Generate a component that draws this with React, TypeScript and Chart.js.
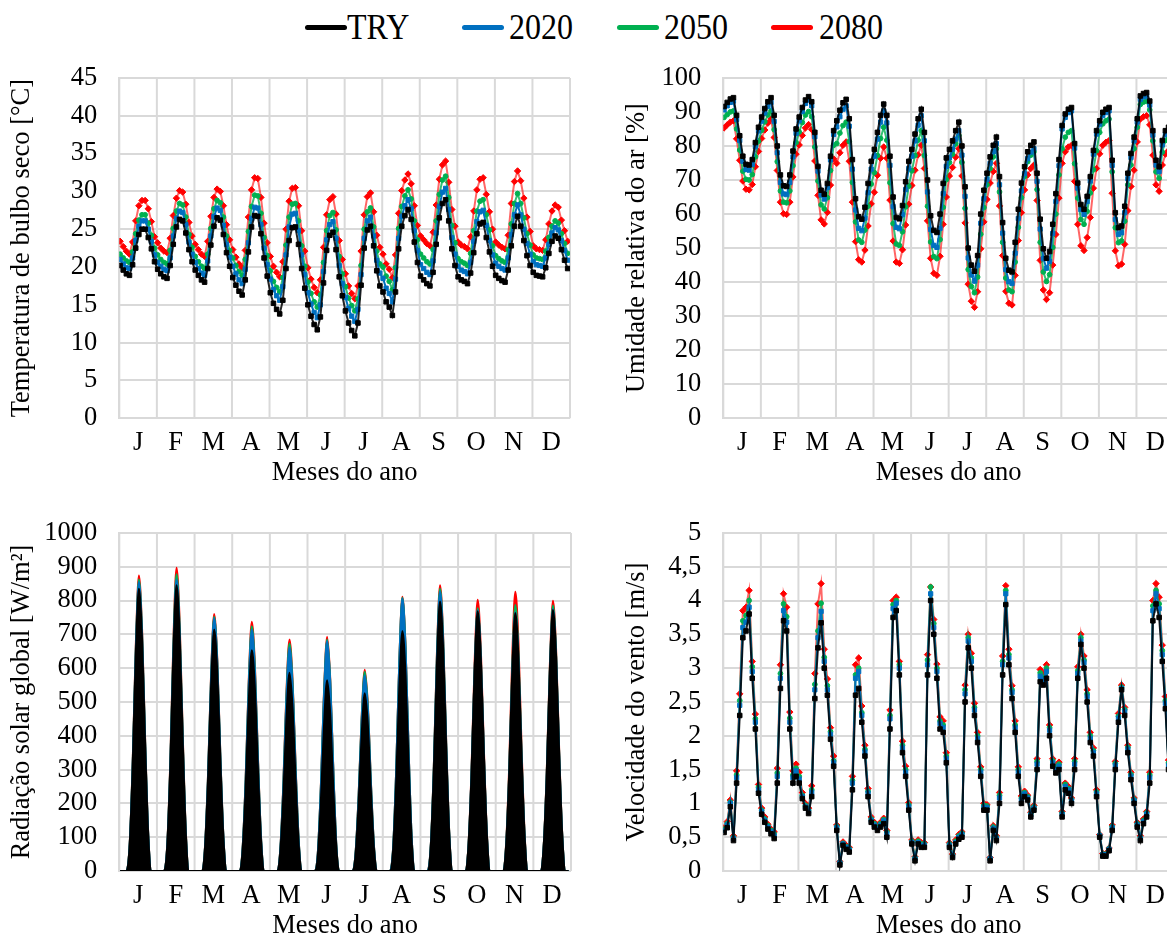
import React, { useEffect, useRef } from 'react';
import { Chart, registerables } from 'chart.js';

Chart.register(...registerables);

// ---------- categories ----------
const MONTH_LABELS = ['J', 'F', 'M', 'A', 'M', 'J', 'J', 'A', 'S', 'O', 'N', 'D'];
const HOURS = [0, 2, 4, 6, 8, 10, 12, 14, 16, 18, 20, 22];
const SERIES_NAMES = ['TRY', '2020', '2050', '2080'];
const SERIES_COLORS = ['#000000', '#0070C0', '#00B050', '#FF0000'];

// ---------- Temperatura de bulbo seco [°C] (12 values per month) ----------
const TEMP_TRY = [
  20.2, 19.6, 19.1, 18.9, 20.3, 22.5, 24.3, 25.0, 25.0, 23.9, 22.4, 20.7,
  19.7, 19.1, 18.7, 18.5, 20.2, 23.0, 25.3, 26.3, 26.1, 24.5, 22.3, 20.7,
  19.6, 18.9, 18.3, 18.0, 19.8, 22.9, 25.4, 26.5, 26.2, 24.3, 21.9, 20.1,
  18.6, 17.6, 16.8, 16.3, 18.3, 22.0, 25.3, 26.8, 26.7, 24.4, 21.2, 18.8,
  16.6, 15.2, 14.4, 13.8, 15.6, 19.8, 23.5, 25.2, 25.3, 23.0, 19.8, 17.2,
  15.0, 13.5, 12.4, 11.7, 13.4, 17.9, 22.2, 24.2, 24.6, 22.3, 18.7, 16.2,
  14.2, 12.6, 11.6, 10.9, 12.6, 17.6, 22.5, 24.9, 25.4, 22.8, 19.5, 17.5,
  16.7, 15.4, 14.7, 13.6, 16.7, 22.4, 25.4, 26.8, 27.6, 26.3, 23.3, 20.6,
  18.8, 18.3, 17.8, 17.5, 19.3, 23.0, 26.5, 28.4, 28.9, 26.1, 22.4, 20.2,
  18.7, 18.3, 18.1, 17.8, 19.2, 21.9, 24.4, 25.7, 25.9, 23.9, 22.0, 20.1,
  18.9, 18.5, 18.2, 18.0, 19.6, 22.8, 25.4, 26.7, 25.4, 23.5, 21.5, 20.2,
  19.3, 18.9, 18.8, 18.7, 19.9, 21.8, 23.4, 24.1, 23.8, 22.3, 20.9, 19.8,
];
const TEMP_2020 = [
  21.0, 20.4, 19.9, 19.8, 21.2, 23.5, 25.4, 26.1, 26.1, 25.0, 23.4, 21.6,
  20.6, 20.1, 19.7, 19.5, 21.2, 24.1, 26.4, 27.4, 27.2, 25.6, 23.3, 21.7,
  20.6, 19.8, 19.2, 18.9, 20.8, 24.1, 26.7, 27.8, 27.5, 25.5, 23.0, 21.3,
  20.1, 19.1, 18.3, 17.8, 19.7, 23.2, 26.4, 27.9, 27.8, 25.6, 22.5, 20.3,
  18.4, 17.0, 16.2, 15.6, 17.4, 21.6, 25.3, 27.0, 27.1, 24.8, 21.6, 19.0,
  16.6, 15.1, 14.0, 13.3, 15.0, 19.4, 23.6, 25.6, 26.0, 23.8, 20.2, 17.8,
  16.0, 14.5, 13.5, 12.8, 14.4, 19.0, 23.8, 26.1, 26.6, 24.1, 20.9, 19.2,
  18.5, 17.2, 16.5, 15.4, 18.4, 23.8, 26.7, 28.1, 28.9, 27.7, 24.8, 22.2,
  20.3, 19.8, 19.3, 19.0, 20.8, 24.5, 28.0, 29.9, 30.4, 27.6, 23.9, 21.7,
  20.1, 19.6, 19.4, 19.1, 20.6, 23.4, 26.0, 27.3, 27.5, 25.5, 23.5, 21.6,
  20.5, 20.1, 19.8, 19.6, 21.2, 24.3, 26.9, 28.2, 26.9, 25.0, 23.1, 21.7,
  20.7, 20.3, 20.2, 20.1, 21.2, 23.0, 24.5, 25.2, 24.9, 23.5, 22.2, 20.9,
];
const TEMP_2050 = [
  21.7, 21.2, 20.8, 20.6, 22.0, 24.4, 26.2, 26.9, 26.9, 25.8, 24.2, 22.5,
  21.6, 21.0, 20.6, 20.4, 22.2, 25.1, 27.4, 28.4, 28.2, 26.6, 24.3, 22.6,
  21.4, 20.7, 20.1, 19.8, 21.7, 25.1, 27.7, 28.8, 28.5, 26.6, 24.1, 22.2,
  21.2, 20.2, 19.4, 18.9, 21.0, 24.7, 28.0, 29.5, 29.4, 27.1, 23.9, 21.5,
  19.5, 18.1, 17.3, 16.7, 18.6, 22.9, 26.6, 28.3, 28.4, 26.1, 22.8, 20.1,
  18.0, 16.5, 15.4, 14.7, 16.3, 20.6, 24.8, 26.8, 27.2, 24.9, 21.4, 19.1,
  17.4, 15.9, 14.9, 14.2, 15.8, 20.2, 25.0, 27.3, 27.8, 25.3, 22.1, 20.4,
  20.0, 18.8, 18.1, 17.0, 19.9, 25.1, 28.0, 29.4, 30.2, 29.0, 26.1, 23.6,
  21.7, 21.2, 20.7, 20.4, 22.3, 26.1, 29.6, 31.5, 32.0, 29.2, 25.5, 23.2,
  21.1, 20.7, 20.5, 20.2, 21.8, 24.8, 27.4, 28.7, 28.9, 26.9, 24.9, 22.8,
  21.5, 21.1, 20.8, 20.6, 22.3, 25.7, 28.4, 29.7, 28.4, 26.5, 24.4, 22.9,
  21.6, 21.2, 21.1, 21.0, 22.1, 23.9, 25.4, 26.1, 25.8, 24.4, 23.1, 21.8,
];
const TEMP_2080 = [
  23.4, 22.7, 22.1, 21.7, 23.3, 26.1, 28.1, 28.8, 28.8, 27.7, 26.0, 24.0,
  23.2, 22.5, 22.1, 21.9, 23.8, 26.8, 29.1, 30.1, 29.9, 28.3, 25.9, 24.1,
  23.0, 22.3, 21.7, 21.4, 23.4, 26.7, 29.2, 30.3, 30.0, 28.1, 25.6, 23.6,
  22.3, 21.3, 20.4, 19.9, 22.2, 26.6, 30.2, 31.8, 31.7, 29.2, 25.8, 23.2,
  21.4, 20.1, 19.3, 18.7, 20.7, 25.0, 28.7, 30.4, 30.5, 28.1, 24.8, 22.1,
  19.9, 18.4, 17.3, 16.6, 18.3, 22.6, 26.9, 28.9, 29.3, 27.0, 23.5, 21.0,
  19.1, 17.5, 16.5, 15.8, 17.5, 22.1, 26.9, 29.3, 29.8, 27.3, 24.2, 22.6,
  21.7, 20.4, 19.7, 18.6, 21.6, 27.1, 30.1, 31.5, 32.3, 31.0, 28.1, 25.5,
  24.1, 23.6, 23.1, 22.8, 24.6, 28.2, 31.6, 33.5, 34.0, 31.2, 27.6, 25.4,
  23.3, 22.9, 22.7, 22.4, 24.0, 27.4, 30.2, 31.6, 31.8, 29.6, 27.3, 25.0,
  23.3, 22.9, 22.6, 22.4, 24.2, 28.4, 31.3, 32.7, 31.4, 29.1, 26.6, 24.7,
  22.8, 22.4, 22.3, 22.2, 23.6, 25.7, 27.4, 28.2, 27.9, 26.2, 24.8, 23.4,
];

// ---------- Umidade relativa do ar [%] ----------
const HUM_TRY = [
  91.6, 92.8, 93.8, 94.2, 89.0, 83.0, 77.0, 74.6, 74.4, 76.0, 81.0, 85.5,
  88.5, 91.0, 93.0, 94.2, 89.0, 80.0, 71.5, 68.3, 68.1, 71.5, 78.5, 85.0,
  88.5, 91.3, 93.5, 94.5, 93.0, 84.0, 74.0, 67.0, 65.8, 69.0, 77.0, 84.5,
  87.4, 90.5, 92.7, 93.7, 88.0, 76.0, 64.5, 59.2, 58.5, 62.0, 69.0, 75.5,
  79.0, 84.0, 89.0, 92.3, 89.0, 77.0, 65.0, 59.0, 58.6, 62.5, 69.5, 75.5,
  79.0, 83.5, 88.0, 90.8, 84.0, 70.0, 59.5, 55.2, 54.6, 60.0, 69.0, 76.5,
  79.0, 81.5, 84.5, 87.0, 80.0, 68.0, 50.0, 45.0, 43.2, 47.8, 60.0, 67.0,
  72.0, 76.8, 80.2, 82.6, 71.0, 57.5, 47.0, 43.5, 43.0, 51.7, 61.4, 69.1,
  73.9, 78.3, 80.2, 81.2, 72.0, 58.5, 49.8, 47.0, 49.0, 57.0, 66.0, 76.0,
  86.0, 89.4, 90.8, 91.3, 80.7, 69.1, 62.8, 61.4, 65.2, 71.0, 78.7, 84.5,
  87.4, 89.9, 90.8, 91.3, 75.8, 60.4, 56.0, 56.5, 62.3, 72.0, 77.8, 82.6,
  88.0, 94.7, 95.4, 95.7, 93.2, 84.5, 75.8, 73.9, 81.6, 84.5, 85.5, 86.5,
];
const HUM_2020 = [
  90.6, 91.8, 92.8, 93.2, 87.8, 81.6, 75.5, 73.1, 72.9, 74.6, 79.8, 84.4,
  87.3, 89.7, 91.6, 92.8, 87.2, 78.0, 69.3, 65.9, 65.7, 69.3, 76.8, 83.7,
  87.4, 90.2, 92.5, 93.5, 91.8, 82.7, 72.6, 65.6, 64.4, 67.8, 75.9, 83.4,
  85.6, 88.6, 90.8, 91.8, 85.8, 73.2, 61.2, 55.8, 55.1, 58.8, 66.3, 73.2,
  77.0, 82.0, 87.0, 90.3, 86.8, 74.3, 62.2, 56.1, 55.7, 59.8, 67.2, 73.4,
  77.0, 81.5, 86.1, 88.9, 81.5, 66.5, 55.5, 50.8, 50.2, 55.8, 66.0, 74.0,
  76.6, 79.0, 82.0, 84.5, 77.3, 65.2, 47.1, 42.1, 40.3, 45.0, 57.3, 64.5,
  70.2, 74.9, 78.3, 80.7, 68.6, 54.4, 43.7, 40.1, 39.6, 48.5, 58.7, 66.8,
  71.9, 76.3, 78.2, 79.2, 69.6, 55.6, 46.9, 44.1, 46.1, 54.3, 63.7, 74.2,
  85.0, 88.4, 89.8, 90.3, 79.4, 67.6, 61.3, 59.9, 63.7, 69.7, 77.6, 83.5,
  86.4, 88.9, 89.8, 90.3, 74.3, 58.4, 54.0, 54.5, 60.4, 70.4, 76.6, 81.5,
  87.0, 93.7, 94.4, 94.7, 92.0, 83.2, 74.4, 72.5, 80.3, 83.4, 84.4, 85.5,
];
const HUM_2050 = [
  88.4, 89.2, 90.0, 90.3, 85.0, 78.8, 72.6, 70.2, 70.0, 71.6, 76.8, 81.4,
  84.6, 87.1, 89.1, 90.3, 84.8, 75.4, 66.8, 63.5, 63.3, 66.8, 74.2, 81.0,
  84.1, 86.9, 89.1, 90.1, 88.6, 79.7, 69.7, 62.7, 61.5, 64.8, 72.8, 80.2,
  80.7, 83.8, 86.0, 87.0, 81.3, 69.3, 57.7, 52.4, 51.7, 55.3, 62.3, 68.8,
  72.2, 77.2, 82.2, 85.5, 81.7, 69.2, 57.2, 51.2, 50.8, 54.8, 62.1, 68.2,
  72.7, 77.2, 81.7, 84.5, 77.2, 62.3, 51.8, 47.5, 46.9, 52.5, 62.0, 70.1,
  75.1, 77.6, 80.6, 83.1, 75.2, 61.7, 43.7, 38.7, 36.9, 41.5, 54.1, 61.9,
  68.6, 73.4, 76.8, 79.2, 66.5, 51.7, 41.2, 37.7, 37.2, 45.9, 56.1, 64.8,
  71.0, 75.4, 77.3, 78.3, 67.2, 51.7, 43.0, 40.2, 42.2, 50.2, 60.0, 71.5,
  79.2, 82.6, 84.0, 84.5, 74.8, 64.7, 58.4, 57.0, 60.8, 66.2, 73.0, 78.6,
  84.0, 86.5, 87.4, 87.9, 72.4, 56.0, 51.6, 52.1, 57.9, 68.6, 74.4, 79.2,
  85.5, 92.2, 92.9, 93.2, 90.6, 81.5, 72.4, 70.5, 78.2, 81.6, 82.8, 83.8,
];
const HUM_2080 = [
  85.3, 86.2, 87.0, 87.4, 82.1, 75.8, 69.7, 67.3, 67.1, 68.7, 73.9, 78.4,
  82.2, 84.7, 86.7, 87.9, 82.5, 72.8, 63.5, 60.1, 59.9, 63.5, 70.9, 77.6,
  80.3, 83.1, 85.3, 86.3, 84.8, 75.6, 65.5, 58.3, 57.1, 60.5, 68.5, 76.2,
  74.9, 78.0, 80.2, 81.2, 75.5, 63.5, 51.9, 46.6, 45.9, 49.4, 56.5, 63.0,
  66.4, 71.4, 76.4, 79.7, 76.4, 64.1, 52.1, 45.9, 45.5, 49.5, 56.8, 62.9,
  68.4, 72.9, 77.4, 80.2, 73.4, 58.0, 47.0, 42.6, 42.0, 47.6, 57.0, 65.0,
  71.2, 73.7, 76.7, 79.2, 71.2, 57.4, 39.4, 34.4, 32.6, 37.2, 49.8, 57.7,
  64.3, 69.1, 72.5, 74.9, 62.4, 47.8, 37.3, 33.8, 33.3, 42.0, 52.2, 60.4,
  67.1, 71.5, 73.4, 74.4, 64.0, 46.4, 37.7, 34.9, 36.9, 45.0, 54.0, 64.7,
  74.9, 78.3, 79.7, 80.2, 69.6, 57.0, 50.7, 49.3, 53.1, 59.0, 67.6, 73.4,
  77.7, 80.2, 81.1, 81.6, 66.1, 49.2, 44.8, 45.3, 51.1, 61.0, 68.1, 72.9,
  81.2, 87.9, 88.6, 88.9, 86.2, 77.3, 68.6, 66.7, 74.4, 77.6, 78.7, 79.7,
];

// ---------- Radiação solar global [W/m²] ----------
const RAD_TRY = [
  0, 0, 0, 67, 301, 635, 835, 685, 367, 100, 0, 0,
  0, 0, 0, 68, 304, 642, 845, 693, 372, 101, 0, 0,
  0, 0, 0, 57, 257, 543, 714, 585, 314, 86, 0, 0,
  0, 0, 0, 52, 235, 496, 653, 535, 287, 78, 0, 0,
  0, 0, 0, 47, 211, 445, 586, 481, 258, 70, 0, 0,
  0, 0, 0, 40, 203, 429, 564, 462, 240, 60, 0, 0,
  0, 0, 0, 40, 189, 400, 526, 431, 226, 58, 0, 0,
  0, 0, 0, 55, 256, 540, 710, 582, 309, 80, 0, 0,
  0, 0, 0, 64, 287, 606, 797, 654, 351, 96, 0, 0,
  0, 0, 0, 64, 276, 584, 768, 630, 338, 95, 0, 0,
  0, 0, 0, 65, 275, 580, 763, 626, 336, 96, 0, 0,
  0, 0, 0, 66, 278, 587, 772, 633, 340, 97, 0, 0,
];
const RAD_2020 = [
  0, 0, 0, 68, 308, 650, 855, 701, 376, 103, 0, 0,
  0, 0, 0, 69, 310, 655, 862, 707, 379, 103, 0, 0,
  0, 0, 0, 60, 269, 568, 748, 613, 329, 90, 0, 0,
  0, 0, 0, 57, 257, 543, 714, 585, 314, 86, 0, 0,
  0, 0, 0, 53, 238, 502, 661, 542, 291, 79, 0, 0,
  0, 0, 0, 48, 245, 517, 680, 558, 290, 65, 0, 0,
  0, 0, 0, 44, 208, 440, 579, 475, 249, 64, 0, 0,
  0, 0, 0, 62, 290, 613, 806, 661, 351, 91, 0, 0,
  0, 0, 0, 66, 297, 628, 826, 677, 363, 99, 0, 0,
  0, 0, 0, 64, 278, 587, 772, 633, 340, 95, 0, 0,
  0, 0, 0, 65, 275, 581, 765, 627, 337, 96, 0, 0,
  0, 0, 0, 66, 279, 589, 775, 636, 341, 97, 0, 0,
];
const RAD_2050 = [
  0, 0, 0, 69, 310, 655, 862, 707, 379, 103, 0, 0,
  0, 0, 0, 70, 316, 667, 878, 720, 386, 105, 0, 0,
  0, 0, 0, 60, 271, 572, 752, 617, 331, 90, 0, 0,
  0, 0, 0, 58, 261, 550, 724, 594, 319, 87, 0, 0,
  0, 0, 0, 54, 242, 511, 673, 552, 296, 81, 0, 0,
  0, 0, 0, 48, 247, 521, 685, 562, 292, 66, 0, 0,
  0, 0, 0, 45, 212, 448, 589, 483, 253, 65, 0, 0,
  0, 0, 0, 62, 291, 614, 808, 663, 352, 91, 0, 0,
  0, 0, 0, 67, 301, 635, 835, 685, 367, 100, 0, 0,
  0, 0, 0, 65, 280, 591, 777, 637, 342, 96, 0, 0,
  0, 0, 0, 67, 283, 598, 787, 645, 346, 99, 0, 0,
  0, 0, 0, 67, 283, 597, 785, 644, 345, 99, 0, 0,
];
const RAD_2080 = [
  0, 0, 0, 70, 315, 664, 874, 717, 385, 105, 0, 0,
  0, 0, 0, 72, 323, 682, 897, 736, 395, 108, 0, 0,
  0, 0, 0, 61, 274, 578, 760, 623, 334, 91, 0, 0,
  0, 0, 0, 59, 265, 560, 737, 604, 324, 88, 0, 0,
  0, 0, 0, 55, 247, 521, 685, 562, 301, 82, 0, 0,
  0, 0, 0, 49, 249, 527, 693, 568, 295, 67, 0, 0,
  0, 0, 0, 45, 214, 452, 595, 488, 256, 66, 0, 0,
  0, 0, 0, 62, 292, 616, 811, 665, 353, 91, 0, 0,
  0, 0, 0, 68, 304, 642, 845, 693, 372, 101, 0, 0,
  0, 0, 0, 67, 289, 610, 802, 658, 353, 99, 0, 0,
  0, 0, 0, 70, 297, 628, 826, 677, 363, 103, 0, 0,
  0, 0, 0, 68, 288, 607, 799, 655, 352, 100, 0, 0,
];

// ---------- Velocidade do vento [m/s] ----------
const WIND_TRY = [
  0.57, 0.64, 0.95, 0.45, 1.30, 2.30, 3.45, 3.55, 3.80, 2.85, 2.10, 1.15,
  0.84, 0.72, 0.62, 0.55, 0.48, 1.30, 2.70, 3.70, 3.55, 2.10, 1.30, 1.40,
  1.30, 1.07, 0.93, 0.85, 1.10, 2.55, 3.30, 3.67, 3.00, 2.60, 1.95, 1.55,
  0.60, 0.09, 0.38, 0.32, 0.28, 1.20, 2.60, 2.70, 2.20, 1.70, 1.10, 0.72,
  0.65, 0.60, 0.65, 0.70, 0.50, 2.10, 3.75, 3.85, 2.90, 1.75, 1.40, 0.90,
  0.40, 0.15, 0.40, 0.35, 0.35, 2.90, 4.00, 3.50, 2.85, 2.10, 2.05, 1.60,
  0.35, 0.20, 0.40, 0.47, 0.50, 2.50, 3.30, 3.00, 2.30, 1.90, 1.40, 0.90,
  0.90, 0.15, 0.60, 0.45, 1.00, 2.90, 3.94, 3.05, 2.55, 2.05, 1.40, 1.00,
  1.10, 1.05, 0.80, 0.90, 1.50, 2.80, 2.75, 2.85, 2.00, 1.55, 1.45, 1.50,
  0.80, 1.20, 1.15, 1.00, 1.50, 2.85, 3.35, 3.00, 2.50, 1.90, 1.70, 1.10,
  0.50, 0.22, 0.22, 0.30, 0.60, 1.50, 2.20, 2.68, 2.30, 1.75, 1.35, 1.00,
  0.65, 0.45, 0.70, 0.80, 1.30, 3.70, 3.95, 3.75, 3.10, 2.40, 1.50, 1.00,
];
const WIND_2020 = [
  0.60, 0.68, 1.00, 0.48, 1.38, 2.45, 3.60, 3.68, 3.90, 2.95, 2.20, 1.20,
  0.88, 0.75, 0.65, 0.58, 0.52, 1.40, 2.85, 3.85, 3.68, 2.20, 1.38, 1.48,
  1.36, 1.10, 0.95, 0.88, 1.16, 2.68, 3.45, 3.84, 3.10, 2.68, 2.02, 1.60,
  0.64, 0.12, 0.40, 0.35, 0.31, 1.30, 2.85, 2.95, 2.30, 1.76, 1.15, 0.75,
  0.68, 0.63, 0.68, 0.74, 0.55, 2.25, 3.88, 3.96, 3.00, 1.82, 1.46, 0.95,
  0.42, 0.18, 0.42, 0.38, 0.38, 3.05, 4.10, 3.60, 2.95, 2.18, 2.12, 1.66,
  0.38, 0.22, 0.42, 0.50, 0.54, 2.62, 3.40, 3.10, 2.38, 1.96, 1.46, 0.94,
  0.94, 0.18, 0.63, 0.48, 1.08, 3.05, 4.10, 3.15, 2.64, 2.12, 1.46, 1.05,
  1.14, 1.08, 0.83, 0.93, 1.58, 2.88, 2.82, 2.95, 2.08, 1.60, 1.50, 1.55,
  0.84, 1.25, 1.20, 1.04, 1.58, 2.92, 3.40, 3.08, 2.58, 1.96, 1.75, 1.14,
  0.52, 0.24, 0.24, 0.32, 0.64, 1.56, 2.26, 2.70, 2.36, 1.80, 1.40, 1.04,
  0.68, 0.48, 0.73, 0.84, 1.38, 3.85, 4.10, 3.88, 3.20, 2.48, 1.56, 1.04,
];
const WIND_2050 = [
  0.62, 0.70, 1.02, 0.50, 1.42, 2.52, 3.70, 3.78, 4.00, 3.02, 2.25, 1.24,
  0.90, 0.77, 0.67, 0.60, 0.55, 1.45, 2.92, 3.95, 3.76, 2.26, 1.42, 1.52,
  1.40, 1.12, 0.97, 0.90, 1.20, 2.76, 3.55, 3.96, 3.16, 2.74, 2.06, 1.63,
  0.66, 0.13, 0.41, 0.36, 0.33, 1.34, 2.90, 3.00, 2.34, 1.80, 1.18, 0.77,
  0.70, 0.65, 0.70, 0.76, 0.58, 2.30, 3.94, 4.00, 3.05, 1.86, 1.50, 0.98,
  0.44, 0.20, 0.44, 0.40, 0.40, 3.12, 4.20, 3.66, 3.00, 2.22, 2.16, 1.70,
  0.40, 0.24, 0.44, 0.52, 0.56, 2.68, 3.45, 3.15, 2.42, 2.00, 1.50, 0.97,
  0.96, 0.19, 0.65, 0.50, 1.12, 3.10, 4.15, 3.20, 2.68, 2.16, 1.50, 1.08,
  1.16, 1.10, 0.85, 0.95, 1.62, 2.93, 2.86, 3.00, 2.12, 1.63, 1.53, 1.58,
  0.86, 1.28, 1.22, 1.06, 1.62, 2.96, 3.45, 3.12, 2.62, 2.00, 1.78, 1.17,
  0.53, 0.25, 0.25, 0.33, 0.66, 1.59, 2.29, 2.72, 2.39, 1.83, 1.43, 1.06,
  0.70, 0.50, 0.75, 0.86, 1.42, 3.92, 4.15, 3.95, 3.26, 2.52, 1.60, 1.07,
];
const WIND_2080 = [
  0.64, 0.73, 1.05, 0.52, 1.48, 2.62, 3.85, 3.90, 4.15, 3.10, 2.32, 1.28,
  0.93, 0.80, 0.69, 0.62, 0.58, 1.52, 3.05, 4.10, 3.90, 2.35, 1.48, 1.58,
  1.46, 1.16, 1.00, 0.93, 1.26, 2.92, 3.95, 4.25, 3.28, 2.84, 2.12, 1.70,
  0.68, 0.14, 0.43, 0.38, 0.35, 1.40, 3.05, 3.15, 2.44, 1.86, 1.22, 0.80,
  0.72, 0.67, 0.72, 0.78, 0.60, 2.38, 4.00, 4.05, 3.10, 1.92, 1.55, 1.01,
  0.46, 0.21, 0.46, 0.42, 0.42, 3.20, 4.20, 3.72, 3.06, 2.28, 2.22, 1.75,
  0.42, 0.25, 0.46, 0.54, 0.58, 2.75, 3.50, 3.22, 2.48, 2.05, 1.54, 1.00,
  0.98, 0.20, 0.67, 0.52, 1.16, 3.18, 4.22, 3.28, 2.74, 2.22, 1.54, 1.11,
  1.18, 1.12, 0.87, 0.97, 1.66, 2.98, 2.92, 3.05, 2.16, 1.66, 1.56, 1.61,
  0.88, 1.30, 1.25, 1.08, 1.66, 3.02, 3.50, 3.18, 2.68, 2.05, 1.82, 1.20,
  0.54, 0.26, 0.26, 0.34, 0.68, 1.62, 2.33, 2.75, 2.42, 1.86, 1.46, 1.08,
  0.72, 0.52, 0.77, 0.88, 1.46, 4.00, 4.25, 4.05, 3.34, 2.58, 1.64, 1.10,
];

// ---------- styling ----------
const FONT_FAMILY = "'Liberation Serif', 'Times New Roman', serif";
const FONT_SIZE = 26.5;
const GRID_COLOR = '#d9d9d9';
const LINE_COLORS = ['rgba(0,0,0,0.85)', '#0070C0', 'rgba(0,176,80,0.8)', 'rgba(255,0,0,0.6)'];
const POINT_STYLES = ['rect', 'rect', 'circle', 'rectRot'];
const POINT_RADII = [3.2, 3.0, 2.4, 3.2];

function xOf(i: number): number {
  const month = Math.floor(i / HOURS.length);
  const h = HOURS[i % HOURS.length];
  return month + (h + 0.5) / 24;
}

const monthGridPlugin = {
  id: 'monthGrid',
  beforeDatasetsDraw(chart: any) {
    const { ctx, chartArea, scales } = chart;
    const x = scales.x;
    ctx.save();
    ctx.strokeStyle = GRID_COLOR;
    ctx.lineWidth = 2;
    for (let m = 0; m <= MONTH_LABELS.length; m++) {
      const px = x.getPixelForValue(m);
      ctx.beginPath();
      ctx.moveTo(px, chartArea.top);
      ctx.lineTo(px, chartArea.bottom);
      ctx.stroke();
    }
    ctx.restore();
  },
};

type PanelProps = {
  left: number;
  top: number;
  width: number;
  height: number;
  padTop: number;
  padBottom: number;
  yMax: number;
  yStep: number;
  yTitle: string;
  yTitlePad: number;
  series: number[][];
  area?: boolean;
  comma?: boolean;
};

function Panel(props: PanelProps) {
  const ref = useRef<HTMLCanvasElement | null>(null);
  useEffect(() => {
    if (!ref.current) return;
    const font = { family: FONT_FAMILY, size: FONT_SIZE, lineHeight: 1.2 };
    const datasets = props.series.map((vals, k) => {
      const base: any = {
        label: SERIES_NAMES[k],
        data: vals.map((v, i) => ({ x: xOf(i), y: v })),
        borderColor: props.area ? SERIES_COLORS[k] : LINE_COLORS[k],
        backgroundColor: SERIES_COLORS[k],
        borderWidth: 2,
      };
      if (props.area) {
        base.fill = 'origin';
        base.pointRadius = 0;
        base.cubicInterpolationMode = 'monotone';
      } else {
        base.fill = false;
        base.pointStyle = POINT_STYLES[k];
        base.pointRadius = POINT_RADII[k];
        base.pointBackgroundColor = SERIES_COLORS[k];
        base.pointBorderColor = SERIES_COLORS[k];
        base.pointBorderWidth = 1;
      }
      return base;
    });
    const chart = new Chart(ref.current, {
      type: 'line',
      data: { datasets },
      options: {
        responsive: false,
        maintainAspectRatio: false,
        animation: false,
        events: [],
        layout: { padding: { top: props.padTop, bottom: props.padBottom, left: 0, right: 4 } },
        plugins: { legend: { display: false }, tooltip: { enabled: false } },
        scales: {
          x: {
            type: 'linear',
            min: 0,
            max: 12,
            grid: { display: false },
            border: { display: false },
            afterBuildTicks: (s: any) => {
              s.ticks = MONTH_LABELS.map((_, i) => ({ value: i + 0.5 }));
            },
            afterFit: (s: any) => {
              s.height = 71;
            },
            ticks: {
              autoSkip: false,
              maxRotation: 0,
              padding: 1,
              color: '#000',
              font,
              callback: (v: any) => MONTH_LABELS[Math.floor(Number(v))] || '',
            },
            title: { display: true, text: 'Meses do ano', color: '#000', font, padding: 0 },
          },
          y: {
            min: 0,
            max: props.yMax,
            afterFit: (s: any) => {
              s.width = 119.3;
            },
            grid: { color: GRID_COLOR, lineWidth: 2, drawTicks: false },
            border: { color: GRID_COLOR, width: 2 },
            ticks: {
              stepSize: props.yStep,
              autoSkip: false,
              padding: 22,
              color: '#000',
              font,
              callback: (v: any) => (props.comma ? String(v).replace('.', ',') : String(v)),
            },
            title: {
              display: true,
              text: props.yTitle,
              color: '#000',
              font,
              padding: { top: props.yTitlePad, bottom: 0 },
            },
          },
        },
      } as any,
      plugins: [monthGridPlugin],
    });
    return () => chart.destroy();
  }, []);
  return (
    <canvas
      ref={ref}
      width={props.width}
      height={props.height}
      style={{ position: 'absolute', left: props.left, top: props.top, width: props.width, height: props.height }}
    />
  );
}

const LEGEND_ITEMS = [
  { name: SERIES_NAMES[0], color: SERIES_COLORS[0], lineLeft: 305, textLeft: 347 },
  { name: SERIES_NAMES[1], color: SERIES_COLORS[1], lineLeft: 462, textLeft: 509 },
  { name: SERIES_NAMES[2], color: SERIES_COLORS[2], lineLeft: 617, textLeft: 664 },
  { name: SERIES_NAMES[3], color: SERIES_COLORS[3], lineLeft: 771, textLeft: 819 },
];

export default function App() {
  return (
    <div
      style={{
        position: 'fixed',
        left: 0,
        top: 0,
        width: 1167,
        height: 937,
        overflow: 'hidden',
        background: '#ffffff',
      }}
    >
      {LEGEND_ITEMS.map((it) => (
        <React.Fragment key={it.name}>
          <div
            style={{
              position: 'absolute',
              left: it.lineLeft,
              top: 25,
              width: 42,
              height: 5,
              borderRadius: 3,
              background: it.color,
            }}
          />
          <div
            style={{
              position: 'absolute',
              left: it.textLeft,
              top: 11,
              height: 32,
              lineHeight: '32px',
              fontSize: 32,
              fontFamily: FONT_FAMILY,
              color: '#000',
              whiteSpace: 'nowrap',
              transform: 'scaleY(1.12)',
              transformOrigin: 'center',
            }}
          >
            {it.name}
          </div>
        </React.Fragment>
      ))}
      <Panel
        left={0}
        top={40}
        width={575}
        height={450}
        padTop={33.3}
        padBottom={0.7}
        yMax={45}
        yStep={5}
        yTitle="Temperatura de bulbo seco [°C]"
        yTitlePad={6.4}
        series={[TEMP_TRY, TEMP_2020, TEMP_2050, TEMP_2080]}
      />
      <Panel
        left={604}
        top={40}
        width={575}
        height={450}
        padTop={33.3}
        padBottom={0.7}
        yMax={100}
        yStep={10}
        yTitle="Umidade relativa do ar [%]"
        yTitlePad={16.8}
        series={[HUM_TRY, HUM_2020, HUM_2050, HUM_2080]}
      />
      <Panel
        left={0}
        top={495}
        width={575}
        height={447}
        padTop={31.7}
        padBottom={0}
        yMax={1000}
        yStep={100}
        yTitle="Radiação solar global [W/m²]"
        yTitlePad={6.4}
        series={[RAD_TRY, RAD_2020, RAD_2050, RAD_2080]}
        area
      />
      <Panel
        left={604}
        top={495}
        width={575}
        height={447}
        padTop={31.7}
        padBottom={0}
        yMax={5}
        yStep={0.5}
        yTitle="Velocidade do vento [m/s]"
        yTitlePad={16.8}
        series={[WIND_TRY, WIND_2020, WIND_2050, WIND_2080]}
        comma
      />
    </div>
  );
}
